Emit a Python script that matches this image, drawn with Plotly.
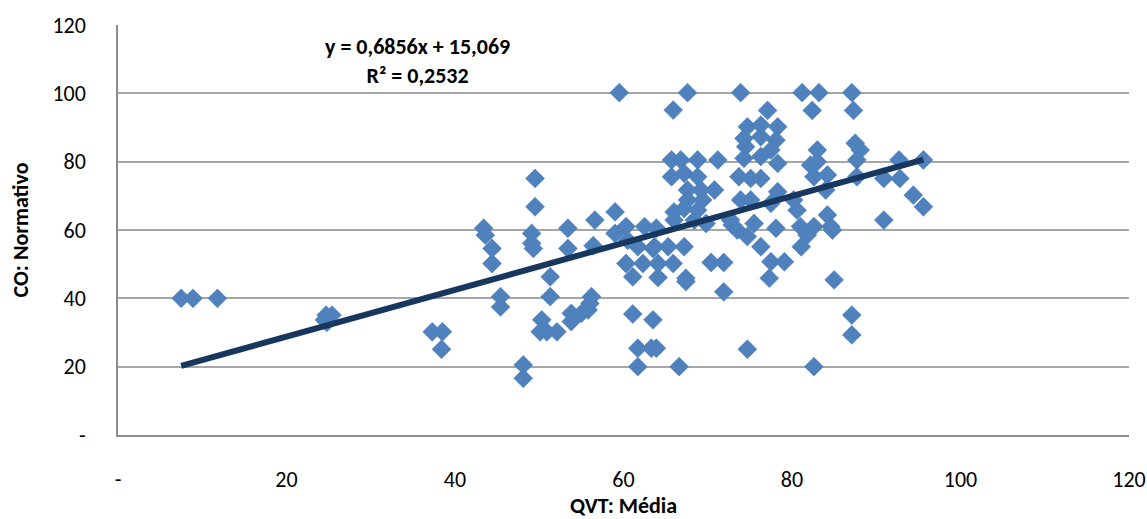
import plotly.graph_objects as go

# QVT: Média (x) and CO: Normativo (y)
qvt_media = [
    7.5, 8.9, 11.8,
    24.7, 25.4, 24.5, 24.8,
    37.3, 38.5, 38.4,
    43.4, 43.6, 44.4, 44.4, 45.4, 45.4,
    48.1, 48.1,
    49.5, 49.5, 49.1, 49.1, 49.3,
    50.3, 50.1, 50.9, 52.1,
    51.3, 51.3,
    53.4, 53.4, 53.8, 53.8, 55.0, 55.8, 56.0, 56.2,
    56.6, 56.4,
    59.0, 59.0, 59.5,
    60.3, 60.5, 60.3, 61.1,
    62.5, 63.9, 61.7, 63.5, 62.3, 64.1, 64.1,
    61.1, 63.5,
    61.7, 63.3, 63.9,
    61.7, 66.6,
    66.0,
    65.7, 66.8, 68.8, 71.2,
    65.7, 67.2, 68.8,
    67.6, 69.2, 70.8,
    67.6, 69.4,
    67.2, 68.8,
    66.0, 68.4, 69.8,
    63.7, 65.3, 67.2,
    65.9, 67.4, 67.4,
    65.9, 67.6,
    70.4, 71.9,
    71.9,
    72.9, 73.5, 72.7,
    73.9,
    74.5,
    73.7, 75.1, 76.3,
    74.7, 76.3, 78.3,
    74.3, 76.3, 78.1,
    77.5,
    74.3, 76.3, 78.3,
    77.1, 82.4, 87.3,
    81.2, 83.2, 87.1,
    83.0, 83.0, 82.2, 82.6, 84.2, 84.0,
    87.5, 88.1, 87.7, 87.7,
    78.3, 80.2, 77.5, 80.6, 73.9, 75.1,
    84.2, 84.6,
    75.5, 78.1,
    74.7, 76.3,
    81.0, 81.8, 82.6,
    81.1,
    77.5, 79.1,
    77.3,
    84.8,
    85.0,
    87.1, 87.1,
    74.7,
    82.6,
    90.9, 92.7, 92.8, 95.6, 94.4, 95.6, 90.9,
]
co_normativo = [
    40.0, 40.0, 40.0,
    35.1, 35.1, 33.7, 33.0,
    30.2, 30.2, 25.1,
    60.5, 58.5, 54.6, 50.2, 40.5, 37.5,
    20.5, 16.6,
    75.1, 66.8, 59.0, 56.1, 54.6,
    33.7, 30.2, 30.2, 30.2,
    46.3, 40.5,
    60.5, 54.6, 35.6, 33.2, 35.6, 36.6, 38.5, 40.5,
    62.9, 55.4,
    65.3, 59.0, 100.2,
    61.0, 57.0, 50.2, 46.3,
    61.0, 60.5, 55.1, 54.6, 50.2, 50.2, 46.1,
    35.4, 33.7,
    25.4, 25.4, 25.4,
    20.0, 20.0,
    65.3,
    80.5, 80.5, 80.5, 80.5,
    75.6, 76.6, 75.6,
    71.7, 71.7, 71.7,
    68.8, 68.8,
    66.3, 65.8,
    62.9, 62.9, 61.9,
    55.1, 55.1, 55.1,
    50.2, 45.9, 44.9,
    95.1, 100.2,
    50.5, 50.5,
    41.9,
    61.5, 60.0, 62.9,
    100.2,
    84.4,
    75.6, 75.1, 75.1,
    90.2, 90.7, 90.2,
    86.8, 87.3, 86.3,
    83.4,
    81.0, 81.5, 79.5,
    95.0, 95.0, 95.0,
    100.2, 100.2, 100.2,
    83.4, 80.0, 79.0, 75.6, 76.1, 71.7,
    85.4, 83.4, 80.5, 75.6,
    71.2, 68.8, 67.8, 65.8, 68.8, 68.8,
    64.4, 61.0,
    61.9, 60.5,
    58.1, 55.1,
    61.0, 58.5, 61.0,
    55.1,
    50.7, 50.7,
    45.9,
    60.0,
    45.4,
    35.1, 29.3,
    25.1,
    20.0,
    75.1, 80.5, 75.1, 80.5, 70.2, 66.8, 62.9,
]

# Linear trend line as printed on the chart
trend_slope = 0.6856
trend_intercept = 15.069
trend_lines = ["y = 0,6856x + 15,069", "R² = 0,2532"]

tick_vals = [0, 20, 40, 60, 80, 100, 120]
tick_text = ["-", "20", "40", "60", "80", "100", "120"]

FONT = "Calibri, Carlito, Lato, 'Open Sans', sans-serif"

x_min, x_max = min(qvt_media), max(qvt_media)
trend_x = [x_min, x_max]
trend_y = [trend_slope * v + trend_intercept for v in trend_x]

fig = go.Figure()
fig.add_trace(go.Scatter(
    x=qvt_media, y=co_normativo, mode="markers",
    marker=dict(symbol="diamond", size=14.5, color="#4F81BD",
                line=dict(width=0.6, color="#4A7EBB")),
    showlegend=False, hoverinfo="x+y",
))
fig.add_trace(go.Scatter(
    x=trend_x, y=trend_y, mode="lines",
    line=dict(color="#17375E", width=6),
    showlegend=False, hoverinfo="skip",
))

fig.add_annotation(
    x=0.296, y=0.985, xref="paper", yref="paper",
    xanchor="center", yanchor="top", align="center",
    text="<br>".join("<b>" + t + "</b>" for t in trend_lines),
    showarrow=False, font=dict(family=FONT, size=22, color="#000000"),
)

fig.update_layout(
    width=1147, height=519,
    margin=dict(l=118, r=18, t=25, b=84),
    paper_bgcolor="white", plot_bgcolor="white",
    font=dict(family=FONT, size=22, color="#000000"),
    xaxis=dict(
        range=[0, 120], tickvals=tick_vals, ticktext=tick_text,
        showgrid=False, zeroline=False, automargin=False,
        showline=True, linecolor="#8C8C8C", linewidth=1.5,
        ticks="", ticklabelstandoff=24, ticklabeloverflow="allow",
        tickfont=dict(family=FONT, size=22),
        title=dict(text="<b>QVT: Média</b>", standoff=12,
                   font=dict(family=FONT, size=22)),
    ),
    yaxis=dict(
        range=[0, 120], tickvals=tick_vals, ticktext=tick_text,
        showgrid=True, gridcolor="#A6A6A6", gridwidth=1.5,
        zeroline=False, automargin=False,
        showline=True, linecolor="#8C8C8C", linewidth=1.5,
        ticks="", ticklabelstandoff=26,
        tickfont=dict(family=FONT, size=22),
        title=dict(text="<b>CO: Normativo</b>", standoff=18,
                   font=dict(family=FONT, size=22)),
    ),
)

fig.write_html(
    "out.html",
    config={"displayModeBar": False},
    post_script="document.body.style.margin='0';document.body.style.overflow='hidden';",
)
